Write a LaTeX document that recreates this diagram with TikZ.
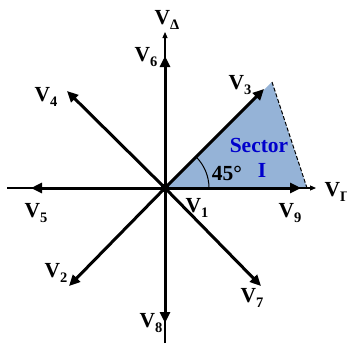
\documentclass[tikz,border=0pt]{standalone}
\usepackage{fontspec}
\setmainfont{Liberation Serif}
\usetikzlibrary{arrows.meta}
\definecolor{sectorblue}{HTML}{95B3D7}
\definecolor{textblue}{HTML}{0000CC}
\newcommand{\vl}[1]{V\raisebox{-0.5ex}{\fontsize{14.5}{14.5}\selectfont #1}}
\begin{document}
\begin{tikzpicture}[x=1pt,y=-1pt,
  vec/.style={line width=3pt,-{Triangle[length=11pt,width=10pt]}},
  axisline/.style={line width=1.1pt},
  axisarrow/.style={line width=1.1pt,-{Triangle[length=6pt,width=5pt]}},
  lab/.style={font=\fontsize{21.5}{21.5}\selectfont\bfseries, inner sep=0pt}]
\useasboundingbox (0,0) rectangle (347,343);
\coordinate (O) at (165,188);
\coordinate (A) at (272,82);
\coordinate (C) at (307,188);
% sector
\fill[sectorblue] (O) -- (A) -- (C) -- cycle;
\draw[line width=1pt, dash pattern=on 4pt off 2pt] (A) -- (C);
% axes
\coordinate (axL) at (7,188);
\coordinate (axR) at (316,188);
\coordinate (axB) at (165,343);
\coordinate (axT) at (165,32);
\draw[axisline] (axL) -- (O);
\draw[axisarrow] (O) -- (axR);
\draw[axisline] (axB) -- (O);
\draw[axisarrow] (O) -- (axT);
% vectors
\coordinate (t9) at (301,188);
\coordinate (t3) at (264,89);
\coordinate (t6) at (165,56);
\coordinate (t4) at (67,91);
\coordinate (t5) at (31,188);
\coordinate (t2) at (69,286);
\coordinate (t8) at (165,323);
\coordinate (t7) at (261,286);
\foreach \t in {t9,t3,t6,t4,t5,t2,t8,t7} \draw[vec] (O) -- (\t);
\fill (O) circle (4.5);
% angle arc
\draw[line width=1pt] (209,188) arc[start angle=0, end angle=-45, radius=44];
% labels
\node[lab] (lD) at (167,20) {\vl{Δ}};
\node[lab] (l6) at (146,57) {\vl{6}};
\node[lab] (l3) at (240,85) {\vl{3}};
\node[lab] (l4) at (46,97) {\vl{4}};
\node[lab] (l5) at (36,213) {\vl{5}};
\node[lab] (l2) at (56,273) {\vl{2}};
\node[lab] (l7) at (252,298) {\vl{7}};
\node[lab] (l8) at (151,323) {\vl{8}};
\node[lab] (l1) at (197,208) {\vl{1}};
\node[lab] (l9) at (290,213) {\vl{9}};
\node[lab] (lG) at (337,192) {\vl{Γ}};
\node[lab] (ang) at (227,173) {45°};
\node[lab, text=textblue] (sec) at (259,145) {Sector};
\node[lab, text=textblue] (secI) at (262,170) {I};
\end{tikzpicture}
\end{document}
